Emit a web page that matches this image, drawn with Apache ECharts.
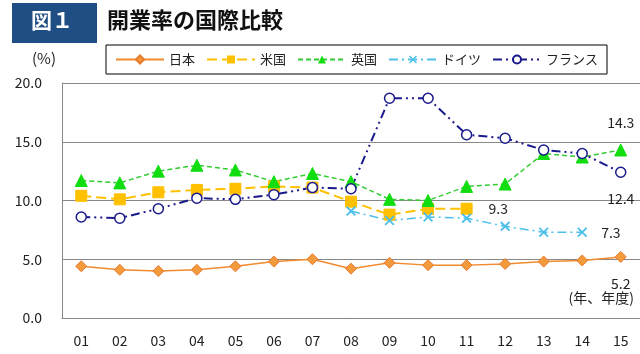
<!DOCTYPE html>
<html>
<head>
<meta charset="utf-8">
<script src="https://cdn.jsdelivr.net/npm/echarts@6/dist/echarts.min.js"></script>
<style>
  html, body { margin: 0; padding: 0; background: #fff; }
  #chart { width: 640px; height: 354px; }
</style>
</head>
<body>
<div id="chart"></div>
<script>
var years = ["01", "02", "03", "04", "05", "06", "07", "08", "09", "10", "11", "12", "13", "14", "15"];
var japan = [4.4, 4.1, 4.0, 4.1, 4.4, 4.8, 5.0, 4.2, 4.7, 4.5, 4.5, 4.6, 4.8, 4.9, 5.2];
var usa = [10.4, 10.1, 10.7, 10.9, 11.0, 11.2, 11.1, 9.9, 8.8, 9.3, 9.3];
var uk = [11.7, 11.5, 12.5, 13.0, 12.6, 11.6, 12.3, 11.6, 10.1, 10.0, 11.2, 11.4, 14.0, 13.7, 14.3];
var germany = ["-", "-", "-", "-", "-", "-", "-", 9.1, 8.3, 8.6, 8.5, 7.8, 7.3, 7.3];
var france = [8.6, 8.5, 9.3, 10.2, 10.1, 10.5, 11.1, 11.0, 18.7, 18.7, 15.6, 15.3, 14.3, 14.0, 12.4];

var font = "'Noto Sans CJK JP', sans-serif";
// thin "x" marker
var crossPath = "path://M1.3,0L5,3.7L8.7,0L10,1.3L6.3,5L10,8.7L8.7,10L5,6.3L1.3,10L0,8.7L3.7,5L0,1.3Z";

// label only the last point of a series
function withEndLabel(arr, idx, label) {
  return arr.map(function (v, i) {
    if (i !== idx) return v;
    return { value: v, label: Object.assign({ show: true, fontSize: 14, color: "#222", fontFamily: font }, label) };
  });
}

var chart = echarts.init(document.getElementById("chart"));
chart.setOption({
  animation: false,
  textStyle: { fontFamily: font },
  grid: { left: 62, right: 0, top: 83, bottom: 36 },
  legend: {
    left: 106, top: 45,
    padding: [8, 9],
    itemWidth: 48, itemHeight: 10, itemGap: 11,
    borderColor: "#000", borderWidth: 1,
    textStyle: { fontSize: 13, color: "#222", fontFamily: font },
    data: ["日本", "米国", "英国", "ドイツ", "フランス"]
  },
  graphic: [
    { type: "rect", left: 12, top: 3, shape: { width: 85, height: 40 }, style: { fill: "#1F4E84" } },
    { type: "text", left: 31, top: 10, style: { text: "図１", fill: "#fff", font: "bold 21px " + font } },
    { type: "text", left: 107, top: 9, style: { text: "開業率の国際比較", fill: "#111", font: "bold 22px " + font } },
    { type: "text", left: 32, top: 51, style: { text: "(%)", fill: "#222", font: "15px " + font } },
    { type: "text", right: 6, top: 291, style: { text: "(年、年度)", fill: "#222", font: "14px " + font } }
  ],
  xAxis: {
    type: "category",
    data: years,
    boundaryGap: true,
    axisLine: { lineStyle: { color: "#888" } },
    axisTick: { inside: true, length: 5, lineStyle: { color: "#888" } },
    axisLabel: { fontSize: 14, color: "#222", margin: 16 }
  },
  yAxis: {
    type: "value",
    min: 0, max: 20, interval: 5,
    axisLine: { show: true, lineStyle: { color: "#888" } },
    axisTick: { show: false },
    axisLabel: { fontSize: 14, color: "#222", margin: 20, formatter: function (v) { return v.toFixed(1); } },
    splitLine: { lineStyle: { color: "#888", width: 1 } }
  },
  series: [
    {
      name: "日本", type: "line",
      data: withEndLabel(japan, 14, { position: "bottom", distance: 14 }),
      symbol: "diamond", symbolSize: 11,
      lineStyle: { color: "#F28A2E", width: 1.5 },
      itemStyle: { color: "#F39A3C", borderColor: "#E8782A", borderWidth: 1 }
    },
    {
      name: "米国", type: "line",
      data: withEndLabel(usa, 10, { position: "right", distance: 16 }),
      symbol: "rect", symbolSize: 11,
      lineStyle: { color: "#FFC000", width: 2, type: [10, 5] },
      itemStyle: { color: "#FFC000", borderColor: "#FFC000" }
    },
    {
      name: "英国", type: "line",
      data: withEndLabel(uk, 14, { position: "top", distance: 14 }),
      symbol: "triangle", symbolSize: 12,
      lineStyle: { color: "#33CC33", width: 1.5, type: [5, 3] },
      itemStyle: { color: "#11DD11", borderColor: "#11DD11" }
    },
    {
      name: "ドイツ", type: "line",
      data: withEndLabel(germany, 13, { position: "right", distance: 14 }),
      symbol: crossPath, symbolSize: 10,
      lineStyle: { color: "#4DC0EA", width: 1.5, type: [9, 4, 2, 4] },
      itemStyle: { color: "#4DC0EA", borderColor: "#4DC0EA", borderWidth: 0 }
    },
    {
      name: "フランス", type: "line",
      data: withEndLabel(france, 14, { position: "bottom", distance: 14 }),
      symbol: "circle", symbolSize: 10,
      lineStyle: { color: "#1A1A8C", width: 2, type: [9, 4, 2, 4, 2, 4] },
      itemStyle: { color: "#fff", borderColor: "#1A1A8C", borderWidth: 1.5 }
    }
  ]
});
</script>
</body>
</html>
